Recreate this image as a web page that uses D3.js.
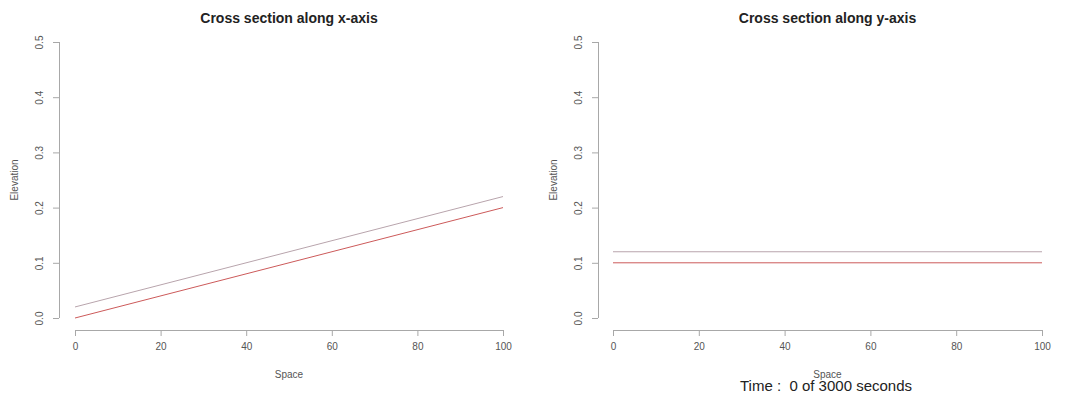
<!DOCTYPE html>
<html>
<head>
<meta charset="utf-8">
<style>
  body { margin: 0; background: #fff; }
  svg { display: block; }
  .axis path, .axis line { stroke: #a8a8a8; }
  .axis text { fill: #555; font-size: 10px; }
</style>
</head>
<body>
<svg width="1081" height="399" font-family="Liberation Sans, Arial, sans-serif"></svg>
<script src="https://d3js.org/d3.v7.min.js"></script>
<script>

// data
var spaceX = [0, 100];
var upperX = [0.02, 0.22];
var lowerX = [0.00, 0.20];

var spaceY = [0, 100];
var upperY = [0.12, 0.12];
var lowerY = [0.10, 0.10];

var xTicks = [0, 20, 40, 60, 80, 100];
var yTicks = [0, 0.1, 0.2, 0.3, 0.4, 0.5];

var titles = ["Cross section along x-axis", "Cross section along y-axis"];

var svg = d3.select("svg");

var panels = [
  {left: 75, right: 503, yAxisX: 59, title: titles[0], space: spaceX, upper: upperX, lower: lowerX},
  {left: 613, right: 1042, yAxisX: 598, title: titles[1], space: spaceY, upper: upperY, lower: lowerY}
];

panels.forEach(function(p) {
  var x = d3.scaleLinear().domain([0, 100]).range([p.left, p.right]);
  var y = d3.scaleLinear().domain([0, 0.5]).range([318, 42]);
  var g = svg.append("g");

  // x axis
  var xa = g.append("g").attr("class", "axis")
      .attr("transform", "translate(0,330)")
      .call(d3.axisBottom(x).tickValues(xTicks).tickSize(6).tickSizeOuter(0).tickPadding(7));
  xa.select(".domain").attr("d", "M" + x(0) + ",0.5H" + x(100));

  // y axis
  var ya = g.append("g").attr("class", "axis")
      .attr("transform", "translate(" + p.yAxisX + ",0)")
      .call(d3.axisLeft(y).tickValues(yTicks).tickFormat(d3.format(".1f")).tickSize(6).tickSizeOuter(0));
  ya.select(".domain").attr("d", "M0.5," + y(0) + "V" + y(0.5));
  ya.selectAll(".tick text")
      .attr("x", 0).attr("dy", null)
      .attr("text-anchor", "middle")
      .attr("transform", "translate(-16,0) rotate(-90)");

  var line = d3.line()
      .x(function(d, i) { return x(p.space[i]); })
      .y(function(d) { return y(d); });

  g.append("path").datum(p.upper)
      .attr("fill", "none").attr("stroke", "#b8a4ac").attr("stroke-width", 1)
      .attr("d", line);
  g.append("path").datum(p.lower)
      .attr("fill", "none").attr("stroke", "#cc5a5a").attr("stroke-width", 1)
      .attr("d", line);

  g.append("text")
      .attr("x", (p.left + p.right) / 2).attr("y", 23)
      .attr("text-anchor", "middle")
      .attr("font-weight", "bold").attr("font-size", 14).attr("fill", "#222")
      .text(p.title);

  g.append("text")
      .attr("x", (p.left + p.right) / 2).attr("y", 378)
      .attr("text-anchor", "middle")
      .attr("font-size", 10).attr("fill", "#555")
      .text("Space");

  g.append("text")
      .attr("transform", "translate(" + (p.yAxisX - 41) + "," + 180 + ") rotate(-90)")
      .attr("text-anchor", "middle")
      .attr("font-size", 10).attr("fill", "#555")
      .text("Elevation");
});

svg.append("text")
    .attr("x", 826).attr("y", 391)
    .attr("text-anchor", "middle")
    .attr("font-size", 15).attr("fill", "#222")
    .text("Time :  0 of 3000 seconds")
    .style("white-space", "pre");

</script>
</body>
</html>
